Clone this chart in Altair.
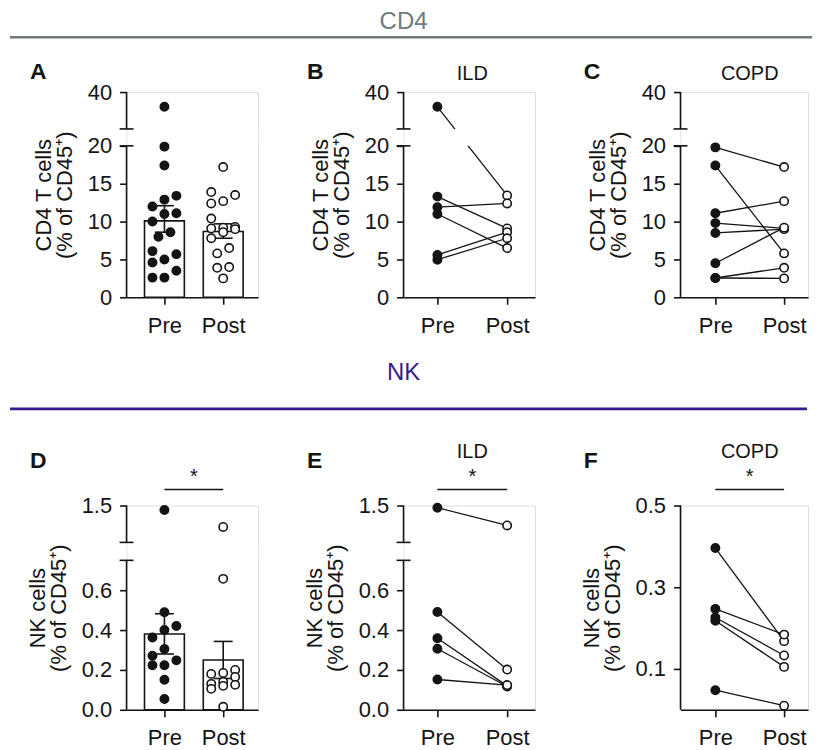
import altair as alt
import pandas as pd

FONT = "Liberation Sans"
INK = "#141414"
GREY = "#6f7b7a"
PURPLE = "#361c8e"

# ---------------- data ----------------
XLABELS = ["Pre", "Post"]

# CD4 T cells (% of CD45+)
A_pre = [36, 19.9, 17.4, 13.4, 12.9, 12.0, 11.1, 11.0, 10.0, 8.6, 8.0, 6.1, 5.7, 5.0, 4.6, 3.5, 2.6, 2.6]
A_post = [17.2, 13.9, 13.5, 12.7, 12.4, 10.4, 9.3, 9.2, 9.1, 9.0, 8.6, 7.8, 6.5, 5.8, 4.0, 3.9, 2.5]
A_mean = [10.1, 8.7]
A_sem_lo = [8.6, 7.8]
A_sem_hi = [12.1, 9.7]

B_pre = [36, 13.3, 11.9, 11.0, 5.6, 4.97]
B_post = [13.45, 9.1, 12.4, 6.5, 8.6, 7.8]

C_pre = [19.8, 17.4, 11.1, 9.8, 8.5, 4.5, 2.55, 2.55]
C_post = [17.2, 5.8, 12.7, 9.1, 9.0, 9.2, 3.9, 2.5]

# NK cells (% of CD45+)
D_pre = [1.44, 0.489, 0.42, 0.40, 0.363, 0.305, 0.271, 0.248, 0.223, 0.223, 0.151, 0.054]
D_post = [1.21, 0.657, 0.20, 0.185, 0.18, 0.165, 0.14, 0.13, 0.125, 0.12, 0.105, 0.015]
D_mean = [0.38, 0.25]
D_sem_lo = [0.28, 0.157]
D_sem_hi = [0.482, 0.343]

E_pre = [1.47, 0.491, 0.359, 0.306, 0.152]
E_post = [1.23, 0.202, 0.12, 0.117, 0.124]

F_pre = [0.396, 0.247, 0.226, 0.218, 0.048]
F_post = [0.168, 0.184, 0.133, 0.105, 0.01]

CD4_TICKS = [0, 5, 10, 15, 20, 40]
NK_TICKS = [0.0, 0.2, 0.4, 0.6, 1.5]
NKF_TICKS = [0.1, 0.3, 0.5]

CD4_TITLE = ["CD4 T cells", "(% of CD45\u207a)"]
NK_TITLE = ["NK cells", "(% of CD45\u207a)"]

# broken-axis settings (segment ranges and pixel lengths)
ROW1 = {"lo_top": 20, "up_lo": 30, "up_top": 40, "L": 152, "G": 17, "U": 37, "H": 206}
ROW2 = {"lo_top": 0.75, "up_lo": 1.0, "up_top": 1.5, "L": 150, "G": 18, "U": 37, "H": 205}
FAX = {"top": 0.5, "H": 205}

FS = 22  # axis text size


def broken(ax):
    return "up_lo" in ax


def fmap(v, ax):
    if broken(ax):
        if v <= ax["lo_top"]:
            return v * ax["L"] / ax["lo_top"]
        return ax["L"] + ax["G"] + (v - ax["up_lo"]) * ax["U"] / (ax["up_top"] - ax["up_lo"])
    return v * ax["H"] / ax["top"]


def fexpr(ax, field):
    if broken(ax):
        p = ax["L"] / ax["lo_top"]
        q = ax["U"] / (ax["up_top"] - ax["up_lo"])
        return (f"datum.{field} <= {ax['lo_top']} ? datum.{field} * {p} : "
                f"{ax['L'] + ax['G']} + (datum.{field} - {ax['up_lo']}) * {q}")
    return f"datum.{field} * {ax['H'] / ax['top']}"


def yenc(field, ax, ticks, fmt, title):
    vals = [round(fmap(t, ax), 4) for t in ticks]
    expr = " : ".join(
        f"abs(datum.value - {p}) < 0.01 ? '{format(t, fmt)}'" for t, p in zip(ticks, vals)
    ) + " : ''"
    return alt.Y(
        field, type="quantitative",
        scale=alt.Scale(domain=[0, ax["H"]], nice=False, zero=True),
        axis=alt.Axis(
            values=vals, labelExpr=expr, title=title, domain=False, grid=False,
            ticks=True, tickSize=7, tickWidth=1.6, tickColor=INK,
            labelFont=FONT, labelFontSize=FS, labelColor=INK, labelPadding=8,
            labelOverlap=False, labelFlush=False,
            titleFont=FONT, titleFontSize=FS, titleFontWeight="normal", titleColor=INK,
            titlePadding=11, titleLineHeight=21,
        ),
    )


def xenc(field, dom):
    return alt.X(
        field, type="quantitative",
        scale=alt.Scale(domain=dom, nice=False, zero=False),
        axis=alt.Axis(
            values=[0, 1],
            labelExpr=f"datum.value == 0 ? '{XLABELS[0]}' : '{XLABELS[1]}'",
            title=None, grid=False, domain=True, domainColor=INK, domainWidth=1.6,
            ticks=True, tickSize=7, tickWidth=1.6, tickColor=INK,
            labelFont=FONT, labelFontSize=FS, labelColor=INK, labelPadding=11,
            labelFlush=False, labelOverlap=False,
        ),
    )


def txt(s):
    return pd.DataFrame({"t": [s], "xm": [0.5], "x1": [0], "x2": [1]})


def panel(letter, pre, post, ax, ticks, fmt, ytitle, pos, W, letter_y, title=None,
          title_y=None, sig=False, stats=None, header=None):
    H = ax["H"]
    pre_px, post_px = pos
    step = post_px - pre_px
    dom = [-pre_px / step, (W - pre_px) / step]

    def X(f):
        return xenc(f, dom)

    def Y(f):
        return yenc(f, ax, ticks, fmt, ytitle)

    layers = []
    n1, n2 = len(pre), len(post)
    pdf = pd.DataFrame({
        "gi": [0] * n1 + [1] * n2,
        "v": list(pre) + list(post),
        "id": list(range(n1)) + list(range(n2)),
    })

    if stats is not None:
        mean, lo, hi = stats
        sdf = pd.DataFrame({"gi": [0, 1], "m": mean, "lo": lo, "hi": hi, "z": [0, 0]})
        sb = alt.Chart(sdf).transform_calculate(
            ym=fexpr(ax, "m"), ylo=fexpr(ax, "lo"), yhi=fexpr(ax, "hi"))
        layers.append(sb.mark_rect(xOffset=-20, x2Offset=20, fill="white", stroke=INK,
                                   strokeWidth=1.6).encode(x=X("gi"), x2="gi", y=Y("z"), y2="ym"))
        layers.append(sb.mark_rule(color=INK, strokeWidth=1.6).encode(
            x=X("gi"), y=Y("ylo"), y2="yhi"))
        for f in ("ylo", "yhi"):
            layers.append(sb.mark_rule(color=INK, strokeWidth=1.6, xOffset=-9.5, x2Offset=9.5)
                          .encode(x=X("gi"), x2="gi", y=Y(f)))

    base = alt.Chart(pdf).transform_calculate(yb=fexpr(ax, "v"))
    if stats is None:
        layers.append(base.mark_line(color=INK, strokeWidth=1.3).encode(
            x=X("gi"), y=Y("yb"), detail="id:N"))
        xfield = "gi"
    else:
        dx = 12.0 / step
        base = (
            base.transform_window(
                window=[alt.WindowFieldDef(op="lag", field="yb", **{"as": "prev"})],
                groupby=["gi"], sort=[alt.SortField("yb", order="ascending")])
            .transform_calculate(brk="isValid(datum.prev) && datum.yb - datum.prev < 9 ? 0 : 1")
            .transform_window(
                window=[alt.WindowFieldDef(op="sum", field="brk", **{"as": "cid"})],
                groupby=["gi"], sort=[alt.SortField("yb", order="ascending")])
            .transform_window(
                window=[alt.WindowFieldDef(op="row_number", **{"as": "rk"})],
                groupby=["gi", "cid"], sort=[alt.SortField("yb", order="ascending")])
            .transform_joinaggregate(n="count()", groupby=["gi", "cid"])
            .transform_calculate(
                xo=f"datum.gi + (datum.n == 1 ? 0 : datum.n == 2 ? (datum.rk - 1.5) : "
                   f"(((datum.rk - 1) % 3) - 1)) * {dx}")
        )
        xfield = "xo"

    if broken(ax):
        gdf = pd.DataFrame({"a": [ax["L"]], "b": [ax["L"] + ax["G"]]})
        layers.append(alt.Chart(gdf).mark_rect(fill="white").encode(
            x=alt.value(1), x2=alt.value(W), y=Y("a"), y2="b"))

    layers.append(base.mark_circle(size=70, opacity=1, stroke=INK, strokeWidth=1.6).encode(
        x=X(xfield), y=Y("yb"),
        fill=alt.Fill("gi:N", scale=alt.Scale(domain=[0, 1], range=[INK, "white"]), legend=None),
    ))

    # y axis line (broken)
    if broken(ax):
        segs = [(0, ax["L"]), (ax["L"] + ax["G"], H)]
    else:
        segs = [(0, H)]
    segdf = pd.DataFrame({"a": [s[0] for s in segs], "b": [s[1] for s in segs]})
    layers.append(alt.Chart(segdf).mark_rule(color=INK, strokeWidth=1.6).encode(
        x=alt.value(0), y=Y("a"), y2="b"))
    if broken(ax):
        bdf = pd.DataFrame({"a": [ax["L"], ax["L"] + ax["G"]]})
        layers.append(alt.Chart(bdf).mark_rule(color=INK, strokeWidth=1.6).encode(
            x=alt.value(-7), x2=alt.value(7), y=Y("a")))

    # panel letter
    layers.append(alt.Chart(txt(letter)).mark_text(
        align="left", baseline="alphabetic", font=FONT, fontSize=23, fontWeight="bold",
        color=INK).encode(x=alt.value(-97), y=alt.value(letter_y), text="t:N"))

    if title:
        layers.append(alt.Chart(txt(title)).mark_text(
            align="center", baseline="alphabetic", font=FONT, fontSize=20, color=INK
        ).encode(x=X("xm"), y=alt.value(title_y), text="t:N"))

    if sig:
        sd = txt("*")
        layers.append(alt.Chart(sd).mark_rule(color=INK, strokeWidth=1.5).encode(
            x=X("x1"), x2="x2", y=alt.value(-16)))
        layers.append(alt.Chart(sd).mark_text(
            align="center", baseline="alphabetic", font=FONT, fontSize=20, color=INK
        ).encode(x=X("xm"), y=alt.value(-23), text="t:N"))

    if header:
        label, color, ty, ly, lx1, lx2 = header
        layers.append(alt.Chart(txt(label)).mark_text(
            align="center", baseline="top", font=FONT, fontSize=24, color=color
        ).encode(x=alt.value(0), y=alt.value(ty), text="t:N"))
        layers.append(alt.Chart(txt(label)).mark_rule(color=color, strokeWidth=2.6).encode(
            x=alt.value(lx1), x2=alt.value(lx2), y=alt.value(ly)))

    return alt.layer(*layers).properties(width=W, height=H)


W1, W2, W3 = 132, 132, 128
posA = (38, 97)
posB = (34, 104)
posC = (35, 104)

pA = panel("A", A_pre, A_post, ROW1, CD4_TICKS, ".0f", CD4_TITLE, posA, W1, -13,
           stats=(A_mean, A_sem_lo, A_sem_hi))
pB = panel("B", B_pre, B_post, ROW1, CD4_TICKS, ".0f", CD4_TITLE, posB, W2, -13,
           title="ILD", title_y=-12, header=("CD4", GREY, -82, -55, -395, 410))
pC = panel("C", C_pre, C_post, ROW1, CD4_TICKS, ".0f", CD4_TITLE, posC, W3, -13,
           title="COPD", title_y=-12)
pD = panel("D", D_pre, D_post, ROW2, NK_TICKS, ".1f", NK_TITLE, posA, W1, -38,
           sig=True, stats=(D_mean, D_sem_lo, D_sem_hi))
pE = panel("E", E_pre, E_post, ROW2, NK_TICKS, ".1f", NK_TITLE, posB, W2, -38,
           title="ILD", title_y=-48, sig=True,
           header=("NK", PURPLE, -145, -97, -395, 405))
pF = panel("F", F_pre, F_post, FAX, NKF_TICKS, ".1f", NK_TITLE, posC, W3, -38,
           title="COPD", title_y=-48, sig=True)

chart = alt.concat(
    pA, pB, pC, pD, pE, pF, columns=3,
    spacing={"row": 209, "column": 146}, bounds="flush",
).properties(padding=0).configure_view(stroke=None).configure(font=FONT)

chart.save("out.html", embed_options={"renderer": "svg", "actions": False})
